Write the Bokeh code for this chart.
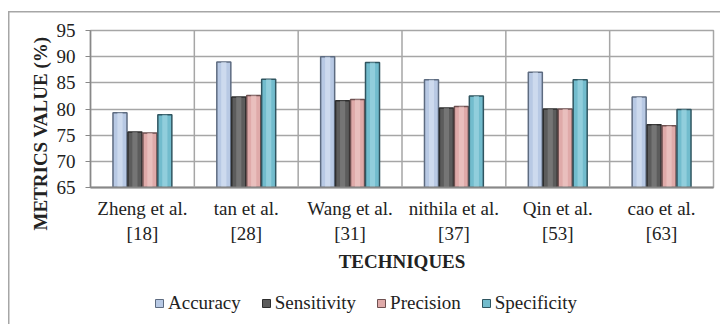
from bokeh.plotting import figure
from bokeh.layouts import column
from bokeh.models import FactorRange, Span, Legend, LegendItem, FixedTicker, ColumnDataSource, Title
from bokeh.transform import dodge
from bokeh.embed import file_html
from bokeh.resources import INLINE

techniques = ["Zheng et al.\n[18]", "tan et al.\n[28]", "Wang et al.\n[31]",
              "nithila et al.\n[37]", "Qin et al.\n[53]", "cao et al.\n[63]"]
accuracy = [79.3, 89.0, 90.0, 85.6, 87.0, 82.3]
sensitivity = [75.6, 82.3, 81.6, 80.2, 80.0, 77.0]
precision = [75.4, 82.6, 81.8, 80.5, 80.0, 76.8]
specificity = [78.9, 85.7, 88.9, 82.5, 85.6, 79.9]
series_names = ["Accuracy", "Sensitivity", "Precision", "Specificity"]
y_ticks = [65, 70, 75, 80, 85, 90, 95]

src = ColumnDataSource(dict(x=techniques, Accuracy=accuracy, Sensitivity=sensitivity,
                            Precision=precision, Specificity=specificity))

FONT = "Liberation Serif"
GRID = "#a6a6a6"
TXT = "#222222"

p = figure(width=720, height=290, x_range=FactorRange(*techniques, range_padding=0),
           y_range=(65, 95), output_backend="svg", toolbar_location=None,
           min_border_left=90, min_border_right=7, min_border_top=30, min_border_bottom=103,
           border_fill_alpha=0)
p.styles = {
    "background": ("linear-gradient(#a6a6a6,#a6a6a6) 8px 11px / 1.5px 400px no-repeat, "
                   "linear-gradient(#a6a6a6,#a6a6a6) 8px 11px / 800px 1.5px no-repeat, white"),
}

fills = ["#b8c9e4", "#5c5c5c", "#dfaaa9", "#72bccd"]
highs = ["#dbe6f5", "#858585", "#f0cdcc", "#a6dbe6"]
edges = ["#5d6b80", "#2e2e2e", "#6e5050", "#2f5560"]
offs = [-0.216, -0.072, 0.072, 0.216]
for name, f, h, e, o in zip(series_names, fills, highs, edges, offs):
    p.vbar(x=dodge("x", o, range=p.x_range), top=name, bottom=65, width=0.135,
           source=src, fill_color=f, line_color=e, line_width=1.5)
    p.vbar(x=dodge("x", o, range=p.x_range), top=name, bottom=65, width=0.05,
           source=src, fill_color=h, line_color=None, fill_alpha=0.6)

for i in range(1, len(techniques)):
    p.add_layout(Span(location=i, dimension="height", line_color=GRID, line_width=1.5))

p.xgrid.grid_line_color = None
p.ygrid.ticker = FixedTicker(ticks=y_ticks)
p.ygrid.grid_line_color = GRID
p.ygrid.grid_line_width = 1.5
p.outline_line_color = GRID
p.outline_line_width = 1.5

p.yaxis.ticker = FixedTicker(ticks=y_ticks)
p.yaxis.major_label_text_font = FONT
p.yaxis.major_label_text_font_size = "19px"
p.yaxis.major_label_text_color = TXT
p.yaxis.major_tick_out = 5
p.yaxis.major_tick_in = 0
p.yaxis.minor_tick_line_color = None
p.yaxis.major_label_standoff = 10
p.yaxis.axis_line_color = "#888888"
p.yaxis.axis_line_width = 1.5
p.yaxis.major_tick_line_color = "#888888"

p.add_layout(Title(text="METRICS VALUE (%)", align="left", offset=-43, standoff=6,
                   text_font=FONT, text_font_size="19px", text_font_style="bold",
                   text_color=TXT), "left")

p.xaxis.major_label_text_font = FONT
p.xaxis.major_label_text_font_size = "19px"
p.xaxis.major_label_text_color = TXT
p.xaxis.major_label_text_line_height = 1.2
p.xaxis.major_tick_line_color = None
p.xaxis.major_tick_out = 0
p.xaxis.major_label_standoff = 10
p.xaxis.axis_line_color = "#888888"
p.xaxis.axis_line_width = 2
p.xaxis.axis_label = "TECHNIQUES"
p.xaxis.axis_label_text_font = FONT
p.xaxis.axis_label_text_font_size = "19px"
p.xaxis.axis_label_text_font_style = "bold"
p.xaxis.axis_label_text_color = TXT
p.xaxis.axis_label_standoff = 4

# legend strip
q = figure(width=720, height=34, x_range=(0, 1), y_range=(0, 1), output_backend="svg",
           toolbar_location=None, min_border=0, border_fill_alpha=0, background_fill_alpha=0)
q.styles = {"background": "linear-gradient(#a6a6a6,#a6a6a6) 8px 0px / 1.5px 100px no-repeat, white"}
q.axis.visible = False
q.grid.visible = False
q.outline_line_color = None
items = []
for name, f, e in zip(series_names, fills, edges):
    r = q.rect(x=[-5], y=[-5], width=1, height=1, fill_color=f, line_color=e, line_width=1)
    items.append(LegendItem(label=name, renderers=[r]))
legend = Legend(items=items, orientation="horizontal", location=(64, 10),
                label_text_font=FONT, label_text_font_size="19px", label_text_color=TXT,
                glyph_width=10, glyph_height=10, label_standoff=4, spacing=20,
                padding=0, margin=0, border_line_color=None, background_fill_alpha=0)
q.add_layout(legend, "center")

layout = column(p, q, spacing=0)
open("out.html", "w").write(file_html(layout, INLINE))
